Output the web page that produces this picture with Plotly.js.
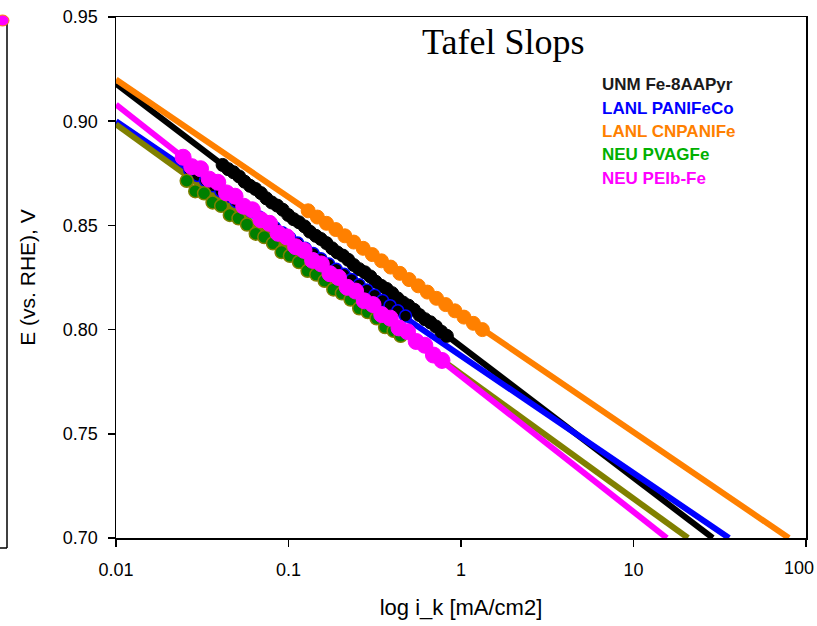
<!DOCTYPE html>
<html><head><meta charset="utf-8">
<script src="https://cdn.plot.ly/plotly-3.0.1.min.js"></script>
<style>html,body{margin:0;padding:0;background:#fff;} #chart{width:817px;height:626px;}</style>
</head><body><div id="chart"></div>
<script>
// Series names and colours
const seriesNames = ["UNM Fe-8AAPyr", "LANL PANIFeCo", "LANL CNPANIFe", "NEU PVAGFe", "NEU PEIb-Fe"];
const legendColors = ["#1a1a1a", "#0000ff", "#ff8000", "#00b000", "#ff00ff"];
const lineColors = ["#000000", "#0000ff", "#ff8000", "#808000", "#ff00ff"];

// Tafel fit lines: start (i=0.01) and end (E=0.70)
const fitIStart = [0.01, 0.01, 0.01, 0.01, 0.01];
const fitIEnd = [28.8, 35.8, 79.6, 20.7, 15.6];
const fitEStart = [0.918, 0.900, 0.920, 0.8985, 0.908];
const fitEEnd = [0.70, 0.70, 0.70, 0.70, 0.70];

// Measured points
const unmI = [0.0415,0.0447,0.0480,0.0517,0.0556,0.0598,0.0643,0.0692,0.0744,0.0800,0.0861,0.0926,0.0996,0.107,0.115,0.124,0.133,0.144,0.154,0.166,0.179,0.192,0.207,0.222,0.239,0.257,0.277,0.298,0.320,0.345,0.371,0.399,0.429,0.461,0.496,0.534,0.574,0.618,0.665,0.715,0.769,0.828];
const unmE = [0.879,0.877,0.8755,0.8735,0.871,0.869,0.8675,0.8655,0.863,0.861,0.8595,0.8575,0.855,0.853,0.8515,0.8495,0.847,0.845,0.8435,0.8415,0.839,0.837,0.8355,0.8335,0.831,0.829,0.8275,0.8255,0.823,0.821,0.8195,0.8175,0.815,0.813,0.8115,0.8095,0.807,0.805,0.8035,0.8015,0.799,0.797];

const panI = [0.0268,0.0297,0.0330,0.0365,0.0405,0.0449,0.0497,0.0551,0.0611,0.0676,0.0750,0.0831,0.0921,0.102,0.113,0.125,0.139,0.154,0.171,0.189,0.210,0.232,0.257,0.285,0.316,0.351,0.388,0.430,0.477];
const panE = [0.8765,0.874,0.8715,0.869,0.8665,0.864,0.8615,0.859,0.8565,0.854,0.8515,0.849,0.8465,0.844,0.8415,0.839,0.8365,0.834,0.8315,0.829,0.8265,0.824,0.8215,0.819,0.8165,0.814,0.8115,0.809,0.8065];

const cnI = [0.130,0.147,0.166,0.188,0.212,0.239,0.271,0.306,0.346,0.391,0.442,0.500,0.565,0.638,0.721,0.815,0.922,1.04,1.18,1.33];
const cnE = [0.857,0.854,0.851,0.848,0.845,0.842,0.839,0.836,0.833,0.830,0.827,0.824,0.821,0.818,0.815,0.812,0.809,0.806,0.803,0.800];

const pvI = [0.0257,0.0288,0.0324,0.0363,0.0407,0.0457,0.0513,0.0575,0.0646,0.0724,0.0813,0.0912,0.102,0.115,0.129,0.145,0.162,0.182,0.204,0.229,0.257,0.288,0.324,0.363,0.407,0.447];
const pvE = [0.8714,0.8664,0.8654,0.8610,0.8594,0.8550,0.8534,0.8504,0.8460,0.8444,0.8414,0.8372,0.8354,0.8324,0.8282,0.8264,0.8234,0.8193,0.8174,0.8144,0.8102,0.8084,0.8054,0.8012,0.7994,0.7970];

const peI = [0.0245,0.0275,0.0309,0.0347,0.0389,0.0437,0.0490,0.0550,0.0617,0.0692,0.0776,0.0871,0.0977,0.110,0.123,0.138,0.155,0.174,0.195,0.219,0.245,0.275,0.309,0.347,0.389,0.437,0.490,0.550,0.617,0.692,0.776];
const peE = [0.8827,0.8782,0.8772,0.8722,0.8707,0.8656,0.8640,0.8592,0.8575,0.8527,0.8510,0.8462,0.8445,0.8398,0.8380,0.8332,0.8315,0.8268,0.8250,0.8203,0.8185,0.8138,0.8120,0.8072,0.8055,0.8008,0.7990,0.7943,0.7925,0.7878,0.7852];

// Axis ticks
const xTickVals = [0.01, 0.1, 1, 10, 100];
const xTickText = ["0.01", "0.1", "1", "10", ""];
const xEdgeLabel = "100";
const yTickVals = [0.70, 0.75, 0.80, 0.85, 0.90, 0.95];
const yTickText = ["0.70", "0.75", "0.80", "0.85", "0.90", "0.95"];

const traces = [];
[0, 1, 2, 3, 4].forEach(k => {
  traces.push({
    x: [fitIStart[k], fitIEnd[k]], y: [fitEStart[k], fitEEnd[k]],
    mode: "lines", line: {color: lineColors[k], width: 6}, showlegend: false, hoverinfo: "skip"
  });
});
traces.push({x: unmI, y: unmE, mode: "markers", marker: {size: 13, color: "#000000", line: {color: "#000000", width: 1}}, showlegend: false});
traces.push({x: panI, y: panE, mode: "markers", marker: {size: 12, color: "#000000", line: {color: "#0000ff", width: 1.5}}, showlegend: false});
traces.push({x: cnI, y: cnE, mode: "markers", marker: {size: 14, color: "#ff8000", line: {color: "#ff8000", width: 1}}, showlegend: false});
traces.push({x: pvI, y: pvE, mode: "markers", marker: {size: 13, color: "#008000", line: {color: "#808000", width: 1.5}}, showlegend: false});
traces.push({x: peI, y: peE, mode: "markers", marker: {size: 16, color: "#ff00ff", line: {color: "#ff00ff", width: 1}}, showlegend: false});

const W = 690, H = 521;
const annotations = seriesNames.map((name, k) => ({
  xref: "paper", yref: "paper", x: (600 - 116) / W, y: (538 - 85 - 23.3 * k) / H,
  xanchor: "left", yanchor: "middle", showarrow: false, text: "<b>" + name + "</b>",
  font: {family: "Liberation Sans, Arial, sans-serif", size: 17, color: legendColors[k]}
}));
annotations.push({
  xref: "paper", yref: "paper", x: (503 - 116) / W, y: (538 - 42) / H,
  xanchor: "center", yanchor: "middle", showarrow: false, text: "Tafel Slops",
  font: {family: "Liberation Serif, serif", size: 36, color: "#000000"}
});
annotations.push({
  xref: "paper", yref: "paper", x: (816 - 116) / W, y: (538 - 568) / H,
  xanchor: "right", yanchor: "middle", showarrow: false, text: xEdgeLabel,
  font: {family: "Liberation Sans, Arial, sans-serif", size: 18, color: "#000"}
});

const shapes = [
  {type: "line", xref: "paper", yref: "paper", x0: (7 - 116) / W, x1: (7 - 116) / W, y0: (538 - 18) / H, y1: (538 - 548) / H, line: {color: "#000", width: 1.5}},
  {type: "line", xref: "paper", yref: "paper", x0: (-2 - 116) / W, x1: (7 - 116) / W, y0: (538 - 548) / H, y1: (538 - 548) / H, line: {color: "#000", width: 1.5}},
  {type: "circle", xref: "paper", yref: "paper", x0: (-4 - 116) / W, x1: (9 - 116) / W, y0: (538 - 15) / H, y1: (538 - 26) / H, fillcolor: "#ff00ff", line: {color: "#ff8000", width: 1}}
];

const layout = {
  width: 817, height: 626,
  margin: {l: 116, r: 11, t: 17, b: 88},
  paper_bgcolor: "#ffffff", plot_bgcolor: "#ffffff",
  font: {family: "Liberation Sans, Arial, sans-serif", size: 18, color: "#000"},
  showlegend: false,
  xaxis: {
    type: "log", range: [-2, 2], tickvals: xTickVals, ticktext: xTickText,
    ticks: "outside", ticklen: 7, tickwidth: 1.5, tickcolor: "#000",
    showline: true, linecolor: "#000", linewidth: 1.5, mirror: true,
    showgrid: false, zeroline: false, ticklabelstandoff: 8,
    title: {text: "log i_k [mA/cm2]", font: {size: 22}, standoff: 20}
  },
  yaxis: {
    range: [0.70, 0.95], tickvals: yTickVals, ticktext: yTickText,
    ticks: "outside", ticklen: 7, tickwidth: 1.5, tickcolor: "#000",
    showline: true, linecolor: "#000", linewidth: 1.5, mirror: true,
    showgrid: false, zeroline: false, ticklabelstandoff: 6,
    title: {text: "E (vs. RHE), V", font: {size: 21}, standoff: 21}
  },
  annotations: annotations,
  shapes: shapes
};

Plotly.newPlot("chart", traces, layout, {displayModeBar: false, staticPlot: true});
</script>
</body></html>
